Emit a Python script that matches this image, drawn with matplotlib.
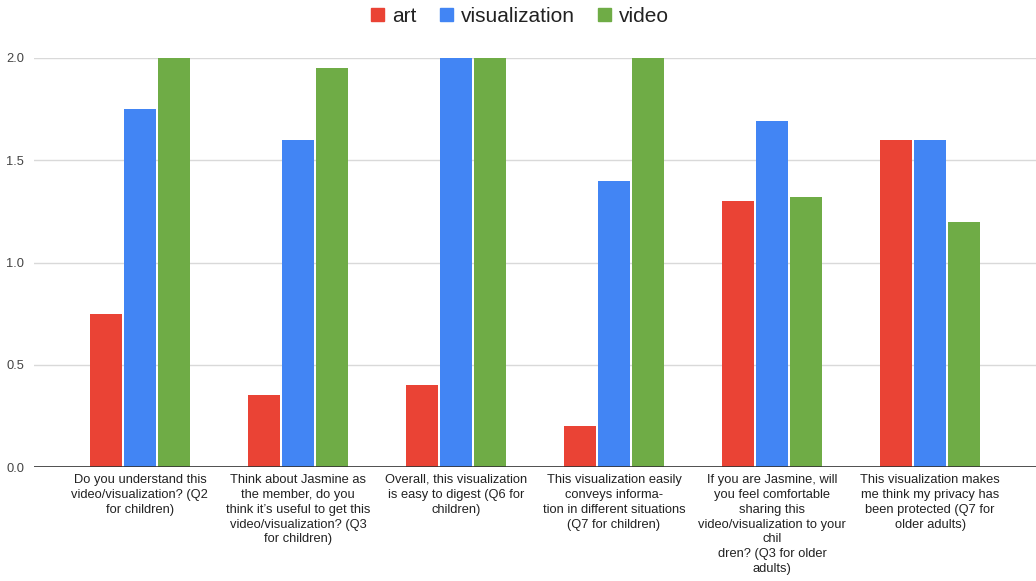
import numpy as np
import matplotlib.pyplot as plt
from matplotlib.patches import Patch

plt.rcParams['font.family'] = ['Liberation Sans', 'DejaVu Sans']

questions = [
    "Do you understand this\nvideo/visualization? (Q2\nfor children)",
    "Think about Jasmine as\nthe member, do you\nthink it\u2019s useful to get this\nvideo/visualization? (Q3\nfor children)",
    "Overall, this visualization\nis easy to digest (Q6 for\nchildren)",
    "This visualization easily\nconveys informa-\ntion in different situations\n(Q7 for children)",
    "If you are Jasmine, will\nyou feel comfortable\nsharing this\nvideo/visualization to your\nchil\ndren? (Q3 for older\nadults)",
    "This visualization makes\nme think my privacy has\nbeen protected (Q7 for\nolder adults)",
]
series_names = ["art", "visualization", "video"]
art = [0.75, 0.35, 0.40, 0.20, 1.30, 1.60]
visualization = [1.75, 1.60, 2.00, 1.40, 1.69, 1.60]
video = [2.00, 1.95, 2.00, 2.00, 1.32, 1.20]
colors = ['#ea4335', '#4285f4', '#6fac46']

fig = plt.figure(figsize=(10.36, 5.81), dpi=100)
ax = fig.add_axes([34 / 1036, 114 / 581, 1002 / 1036, 409 / 581])

x = np.arange(len(questions))
offset = 0.215
width = 0.205
for i, (vals, col) in enumerate(zip([art, visualization, video], colors)):
    ax.bar(x + (i - 1) * offset, vals, width, color=col, zorder=2)

ax.set_xlim(-0.67, 5.67)
ax.set_ylim(0, 2.0)
ax.set_yticks([0, 0.5, 1.0, 1.5, 2.0])
ax.set_yticklabels(['0.0', '0.5', '1.0', '1.5', '2.0'])
ax.yaxis.grid(True, color='#d9d9d9', linewidth=1, zorder=0)
ax.set_axisbelow(True)
ax.axhline(0, color='#333333', linewidth=1.2, zorder=3)

ax.set_xticks(x)
ax.set_xticklabels(questions, fontsize=9.3, color='#222222', linespacing=1.32, va='top')
ax.tick_params(axis='x', length=0, pad=5)
ax.tick_params(axis='y', length=0, pad=7, labelsize=9.3, labelcolor='#444444')
for s in ax.spines.values():
    s.set_visible(False)

handles = [Patch(color=c, label=n) for c, n in zip(colors, series_names)]
fig.legend(handles=handles, loc='center', bbox_to_anchor=(0.502, 0.972), ncol=3,
           frameon=False, fontsize=15, handlelength=0.62, handleheight=0.62,
           handletextpad=0.4, columnspacing=1.1, labelcolor='#222222')

plt.savefig('out.png', dpi=100)
